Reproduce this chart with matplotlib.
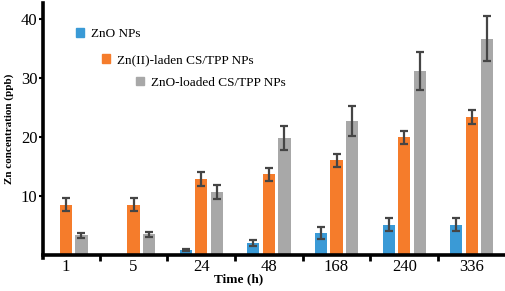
import numpy as np
import matplotlib.pyplot as plt
from matplotlib.patches import Patch
from matplotlib.legend import Legend

# ── data ──
times = ['1', '5', '24', '48', '168', '240', '336']
zno_np = [np.nan, np.nan, 0.8, 2.0, 3.7, 5.1, 5.1]
zno_np_err = [np.nan, np.nan, 0.2, 0.5, 1.0, 1.1, 1.1]
zn2_cs = [8.5, 8.5, 12.8, 13.7, 16.0, 19.9, 23.4]
zn2_cs_err = [1.1, 1.1, 1.2, 1.1, 1.1, 1.1, 1.2]
zno_cs = [3.3, 3.5, 10.7, 19.8, 22.7, 31.2, 36.6]
zno_cs_err = [0.4, 0.4, 1.2, 2.0, 2.5, 3.2, 3.8]

labels = ['ZnO NPs', 'Zn(II)-laden CS/TPP NPs', 'ZnO-loaded CS/TPP NPs']
colors = ['#3a9ad6', '#f57c2b', '#a8a8a8']

plt.rcParams['font.family'] = ['Liberation Serif', 'DejaVu Serif']

fig = plt.figure(figsize=(5.05, 2.91), dpi=100)
ax = fig.add_axes([0.085, 0.124, 0.915, 0.866])

x = np.arange(len(times))
offset = 0.23
width = 0.18
err_kw = dict(ecolor='#454545', elinewidth=1.6, capsize=2.8, capthick=1.6)

for vals, errs, off, c in zip([zno_np, zn2_cs, zno_cs],
                              [zno_np_err, zn2_cs_err, zno_cs_err],
                              [-offset, 0, offset], colors):
    ax.bar(x + off, vals, width, yerr=errs, color=c, error_kw=err_kw, zorder=2)

ax.set_xlim(-0.34, 6.49)
ax.set_ylim(0, 42.7)

# axis styling
for s in ['top', 'right']:
    ax.spines[s].set_visible(False)
ax.spines['left'].set_linewidth(2.6)
ax.spines['bottom'].set_linewidth(2.6)
ax.spines['left'].set_bounds(-0.6, 42.7)

ax.set_yticks([10, 20, 30, 40])
ax.set_yticklabels(['10', '20', '30', '40'], fontsize=12)
ax.tick_params(axis='y', direction='out', length=3, width=1.5, pad=1)

ax.set_xticks(x[:-1] + 0.5)
ax.set_xticklabels([])
ax.tick_params(axis='x', which='major', direction='out', length=4, width=2)
ax.set_xticks(x, minor=True)
ax.set_xticklabels(times, minor=True, fontsize=12)
ax.tick_params(axis='x', which='minor', length=0, pad=3)

ax.set_ylabel('Zn concentration (ppb)', fontsize=8, fontweight='bold', labelpad=5)
ax.set_xlabel('Time (h)', fontsize=9.5, fontweight='bold', labelpad=-1, x=0.424)

# staggered legend entries as in the original (one small legend per series)
anchors = [(0.072, 0.90), (0.128, 0.797), (0.202, 0.707)]
for lab, c, anc in zip(labels, colors, anchors):
    leg = Legend(ax, [Patch(color=c)], [lab], loc='upper left',
                 bbox_to_anchor=anc, frameon=False, fontsize=9.5,
                 handlelength=0.6, handleheight=0.6, handletextpad=0.5,
                 borderaxespad=0, borderpad=0)
    ax.add_artist(leg)

fig.savefig('out.png', dpi=100)
